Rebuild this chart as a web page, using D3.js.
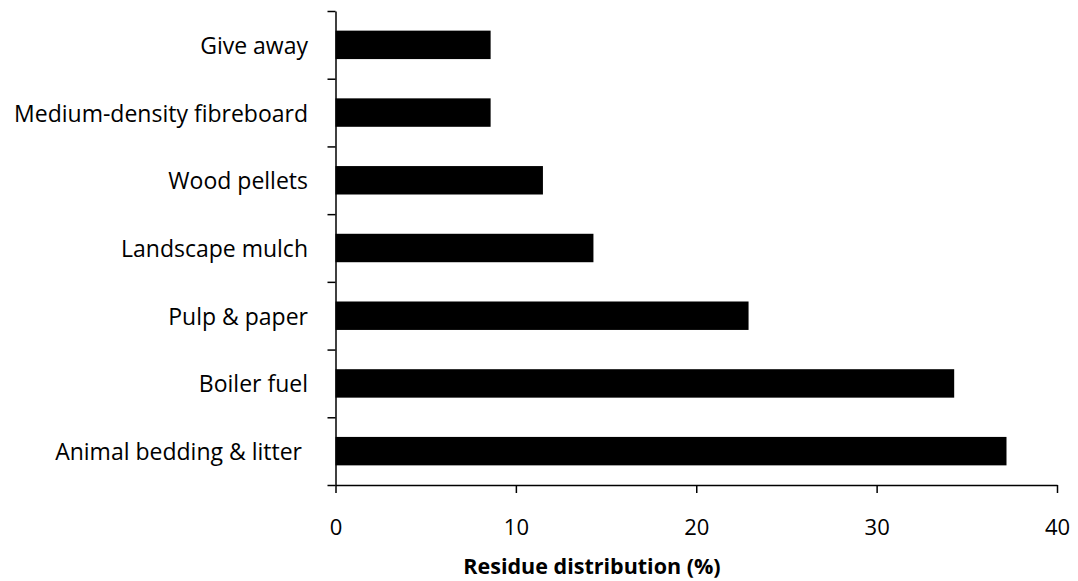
<!DOCTYPE html>
<html><head><meta charset="utf-8">
<script src="https://cdn.jsdelivr.net/npm/d3@7"></script>
<style>
body{margin:0;background:#fff;}
svg text{font-family:"Open Sans",sans-serif;fill:#000;}
</style></head>
<body><svg id="c" width="1078" height="581"></svg>
<script>
const categories = ["Give away","Medium-density fibreboard","Wood pellets","Landscape mulch","Pulp & paper","Boiler fuel","Animal bedding & litter "];
const values = [8.6, 8.6, 11.5, 14.3, 22.9, 34.3, 37.2];
const xTicks = [0,10,20,30,40];
const xTitle = "Residue distribution (%)";

const svg = d3.select("#c");
const mLeft = 335.5, mRight = 1057, mTop = 11, mBottom = 485;
const x = d3.scaleLinear().domain([0,40]).range([mLeft,mRight]);
const y = d3.scaleBand().domain(categories).range([mTop,mBottom]).paddingInner(0.58).paddingOuter(0.29);
const yb = d3.scaleLinear().domain([0,categories.length]).range([mTop,mBottom]);

svg.append("g").selectAll("rect").data(values).join("rect")
  .attr("x", x(0)).attr("y",(d,i)=>y(categories[i]))
  .attr("width", d=>x(d)-x(0)).attr("height", y.bandwidth())
  .attr("fill","#000");

// y axis (boundary ticks)
const ya = svg.append("g").attr("transform",`translate(${mLeft},0)`)
  .call(d3.axisLeft(yb).tickValues(d3.range(categories.length+1)).tickFormat("").tickSize(8).tickSizeOuter(0));
ya.selectAll("path,line").attr("stroke","#000").attr("stroke-width",1.5);

// category labels
svg.append("g").selectAll("text").data(categories).join("text")
  .attr("x", 308).attr("y", d=>y(d)+y.bandwidth()/2)
  .attr("text-anchor","end").attr("dominant-baseline","central")
  .style("font-size","23px").style("white-space","pre")
  .text(d=>d);

// x axis
const xa = svg.append("g").attr("transform",`translate(0,${mBottom})`)
  .call(d3.axisBottom(x).tickValues(xTicks).tickSize(8).tickSizeOuter(0).tickPadding(26));
xa.select(".domain").attr("stroke","#000").attr("stroke-width",1.5);
xa.selectAll("line").attr("stroke","#000").attr("stroke-width",1.5);
xa.selectAll("text").style("font-size","22px").style("font-family","'Open Sans',sans-serif").attr("fill","#000");

svg.append("text").attr("x",592).attr("y",565)
  .attr("text-anchor","middle").attr("dominant-baseline","central")
  .style("font-size","21.5px").style("font-weight","bold").text(xTitle);
</script></body></html>
